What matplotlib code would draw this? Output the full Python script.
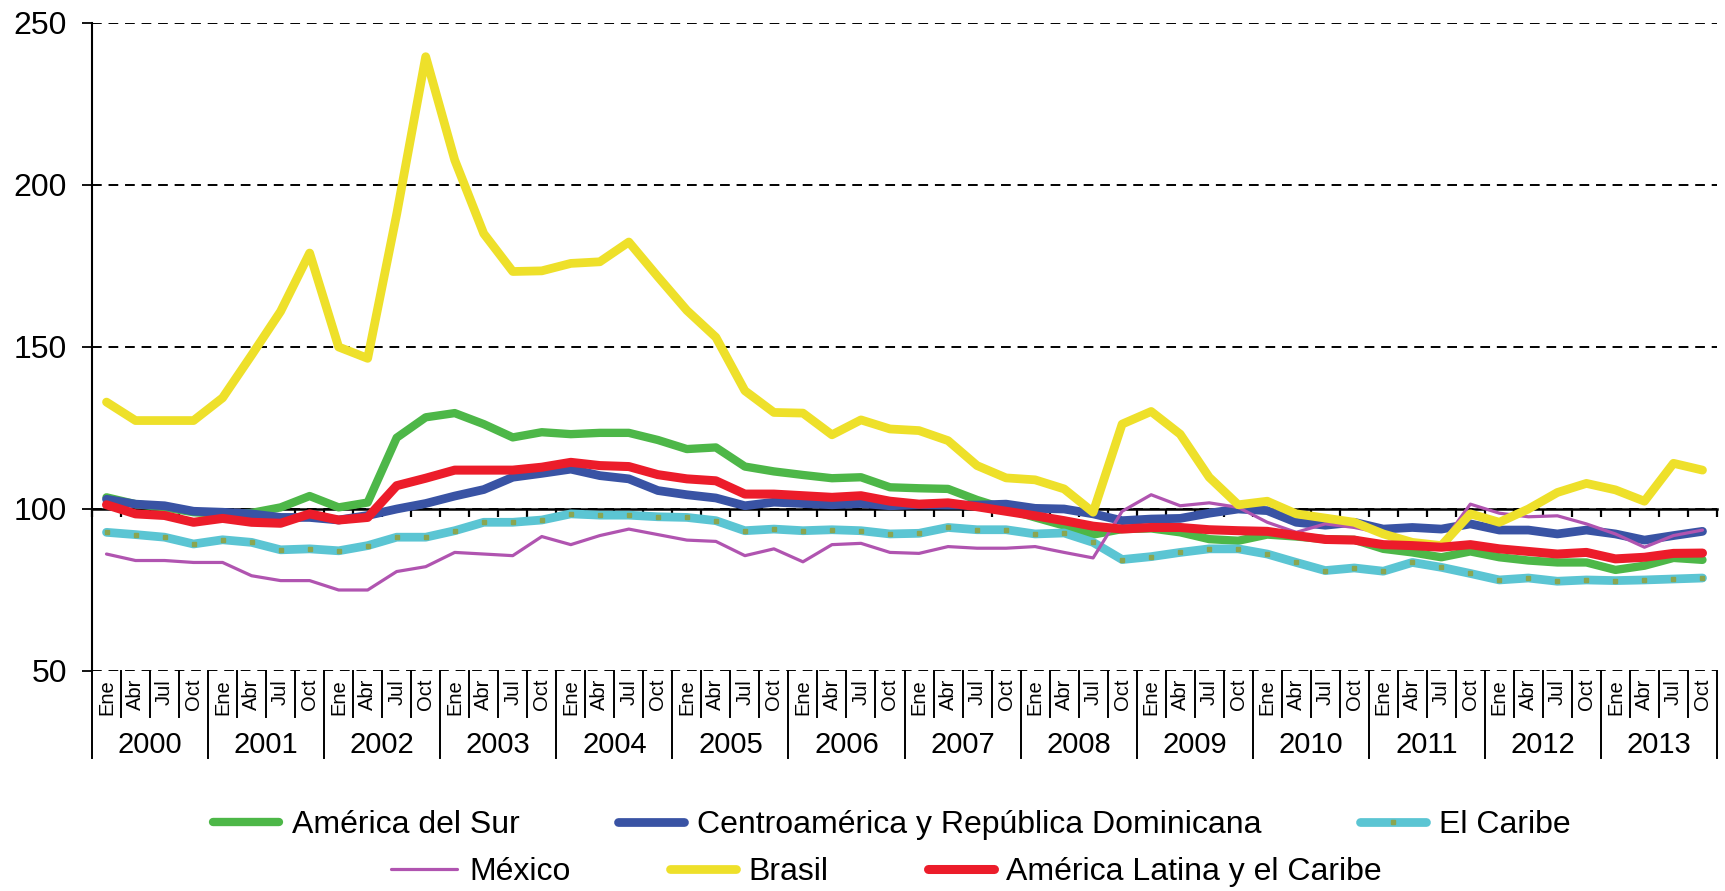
import numpy as np
import matplotlib.pyplot as plt
import matplotlib.transforms as mtransforms

plt.rcParams['font.family'] = ['Liberation Sans', 'DejaVu Sans']

# quarterly index, 2000 Ene .. 2013 Oct
years = list(range(2000, 2014))
quarters = ['Ene', 'Abr', 'Jul', 'Oct']

america_sur = [103.6, 101.5, 100.5, 99.0, 98.5, 98.8, 100.5, 104.0, 100.5, 102.0, 122.0, 128.3,
               129.6, 126.2, 122.1, 123.7, 123.1, 123.5, 123.5, 121.3, 118.5, 119.0, 113.1, 111.6,
               110.5, 109.5, 109.8, 106.7, 106.4, 106.2, 102.8, 100.0, 97.4, 94.9, 92.1, 93.8,
               94.0, 92.8, 90.7, 90.2, 92.1, 91.5, 90.7, 90.5, 87.7, 86.6, 85.1, 86.9,
               85.1, 84.1, 83.5, 83.5, 81.2, 82.5, 84.9, 84.3]
centroamerica = [103.0, 101.5, 101.0, 99.3, 99.0, 98.5, 97.4, 97.4, 96.6, 98.0, 100.0, 101.7,
                 104.0, 106.0, 109.8, 111.0, 112.3, 110.3, 109.3, 105.7, 104.4, 103.4, 101.0, 102.1,
                 101.7, 101.3, 101.7, 101.0, 101.3, 101.2, 101.2, 101.5, 100.2, 100.0, 98.5, 96.4,
                 96.9, 97.1, 98.7, 100.0, 99.5, 95.9, 95.0, 95.9, 93.8, 94.3, 93.8, 95.4,
                 93.5, 93.5, 92.3, 93.5, 92.3, 90.4, 91.8, 93.1]
caribe = [92.8, 92.1, 91.3, 89.2, 90.5, 89.7, 87.4, 87.7, 87.1, 88.7, 91.3, 91.3,
          93.3, 95.9, 95.9, 96.6, 98.5, 98.1, 98.1, 97.6, 97.4, 96.4, 93.3, 93.8,
          93.3, 93.6, 93.3, 92.3, 92.5, 94.3, 93.6, 93.6, 92.3, 92.6, 89.7, 84.4,
          85.3, 86.6, 87.7, 87.7, 86.1, 83.5, 81.0, 81.8, 80.8, 83.5, 82.0, 80.1,
          78.1, 78.7, 77.7, 78.1, 77.9, 78.1, 78.4, 78.7]
mexico = [86.1, 84.1, 84.1, 83.5, 83.5, 79.4, 77.9, 77.9, 75.0, 75.0, 80.7, 82.2,
          86.6, 86.1, 85.6, 91.5, 89.0, 91.8, 93.8, 92.1, 90.4, 90.0, 85.6, 87.7,
          83.7, 89.0, 89.4, 86.6, 86.3, 88.4, 87.9, 87.9, 88.4, 86.6, 84.9, 99.3,
          104.4, 101.0, 101.9, 100.5, 95.9, 92.8, 95.4, 94.3, 92.5, 90.0, 89.2, 101.5,
          98.7, 97.6, 97.9, 95.4, 92.3, 88.2, 91.8, 93.5]
brasil = [133.0, 127.3, 127.3, 127.3, 134.3, 147.5, 161.0, 179.0, 150.0, 146.5, 191.0, 239.6,
          207.7, 185.0, 173.3, 173.5, 175.8, 176.3, 182.4, 171.7, 161.3, 153.0, 136.5, 129.8,
          129.6, 122.9, 127.5, 124.7, 124.2, 121.1, 113.4, 109.6, 109.0, 106.2, 99.0, 126.2,
          130.1, 123.1, 109.8, 101.3, 102.4, 98.5, 97.2, 95.9, 92.3, 89.7, 88.7, 98.5,
          95.9, 100.0, 105.1, 107.9, 105.9, 102.4, 114.1, 112.0]
america_latina = [101.3, 98.5, 98.0, 95.9, 97.1, 95.9, 95.6, 98.5, 96.6, 97.4, 107.2, 109.5,
                  112.0, 112.0, 112.0, 112.9, 114.4, 113.4, 113.1, 110.6, 109.3, 108.7, 104.6, 104.6,
                  104.1, 103.6, 104.1, 102.4, 101.5, 101.9, 100.7, 99.3, 97.9, 96.4, 94.7, 93.8,
                  94.3, 94.3, 93.6, 93.3, 93.1, 91.8, 90.6, 90.4, 89.0, 88.7, 88.2, 89.0,
                  87.7, 86.9, 86.1, 86.6, 84.6, 85.1, 86.3, 86.4]

n = len(brasil)
x = np.arange(n)

fig = plt.figure(figsize=(17.25, 8.91), dpi=100)
ax = fig.add_axes([92 / 1725, 1 - 671 / 891, (1717 - 92) / 1725, (671 - 23) / 891])

lines = []
lines += ax.plot(x, america_sur, color='#4DB748', lw=6, solid_joinstyle='round',
                 solid_capstyle='round', zorder=3, label='América del Sur')
lines += ax.plot(x, centroamerica, color='#3953A4', lw=6.3, solid_joinstyle='round',
                 solid_capstyle='round', zorder=4, label='Centroamérica y República Dominicana')
lines += ax.plot(x, caribe, color='#5BC5D3', lw=6.3, solid_joinstyle='round',
                 solid_capstyle='round', marker='s', ms=2.3, mfc='#8AA650', mec='#8AA650',
                 zorder=5, label='El Caribe')
lines += ax.plot(x, mexico, color='#B054B0', lw=2.3, solid_joinstyle='round',
                 solid_capstyle='round', zorder=6, label='México')
lines += ax.plot(x, brasil, color='#EEE02A', lw=6.3, solid_joinstyle='round',
                 solid_capstyle='round', zorder=7, label='Brasil')
lines += ax.plot(x, america_latina, color='#EC1C2A', lw=6.5, solid_joinstyle='round',
                 solid_capstyle='round', zorder=8, label='América Latina y el Caribe')

ax.set_xlim(-0.5, n - 0.5)
ax.set_ylim(50, 250)
ax.set_yticks([50, 100, 150, 200, 250])
ax.tick_params(axis='y', labelsize=23, length=7, width=1.3, pad=11)

ax.spines['top'].set_visible(False)
ax.spines['right'].set_visible(False)
ax.spines['left'].set_linewidth(1.5)
ax.spines['bottom'].set_position(('data', 100))
ax.spines['bottom'].set_linewidth(1.8)
ax.spines['bottom'].set_zorder(2.5)

ax.set_xticks(np.arange(n + 1) - 0.5)
ax.set_xticklabels([])
ax.tick_params(axis='x', length=6, width=1.6, direction='out')

ax.grid(axis='y', color='black', linestyle=(0, (5, 3.5)), linewidth=1.4)
ax.set_axisbelow(True)

# category labels below the plot
trans = mtransforms.blended_transform_factory(ax.transData, ax.transAxes)
for k in range(n + 1):
    depth = 0.134 if k % 4 == 0 else 0.071
    ax.plot([k - 0.5, k - 0.5], [0, -depth], transform=trans, color='black',
            lw=1.4, clip_on=False)
for i in range(n):
    ax.text(i, -0.012, quarters[i % 4], transform=trans, rotation=90,
            ha='center', va='top', fontsize=14.5)
for j, yr in enumerate(years):
    ax.text(4 * j + 1.5, -0.114, str(yr), transform=trans,
            ha='center', va='center', fontsize=21)

labels = [l.get_label() for l in lines]
leg_kw = dict(loc='center', ncol=3, frameon=False, fontsize=23, handlelength=2.06,
              handletextpad=0.4, columnspacing=3.1, numpoints=1)
fig.legend(lines[:3], labels[:3], bbox_to_anchor=(0.517, 0.074), **leg_kw)
fig.legend(lines[3:], labels[3:], bbox_to_anchor=(0.514, 0.0215), **leg_kw)

fig.savefig('out.png', dpi=100)
